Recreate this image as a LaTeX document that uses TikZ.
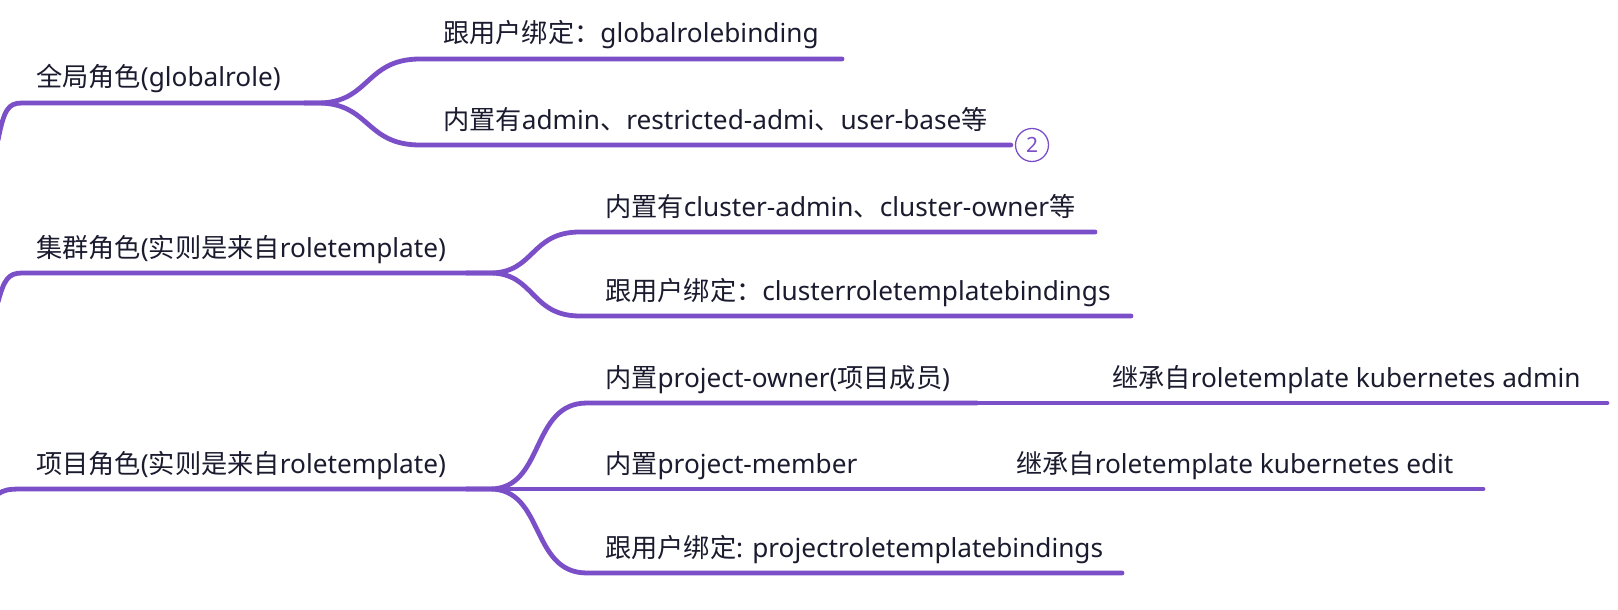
\documentclass[tikz,border=0pt]{standalone}
\usepackage{fontspec}
\setmainfont{Noto Sans}
\newfontfamily\cjk{Noto Sans CJK SC}
\definecolor{mmpurple}{HTML}{7B4FC8}
\definecolor{mmtext}{HTML}{1B1B2F}
\tikzset{
  lbl/.style={anchor=base west, inner sep=0pt, text=mmtext, font=\fontsize{26.2}{30}\selectfont},
  branch/.style={draw=mmpurple, line width=4.8pt, line cap=round},
  badge/.style={circle, draw=mmpurple, line width=1.3pt, minimum size=33pt, inner sep=0pt, text=mmpurple, font=\fontsize{21}{24}\selectfont},
}
\begin{document}
\begin{tikzpicture}[x=1pt,y=-1pt]
			\useasboundingbox (0,0) rectangle (1618,610);
			% roots
			\node[lbl] (glob) at (36,87) {{\cjk 全局角色}(globalrole)};
			\node[lbl] (clus) at (36,257) {{\cjk 集群角色}({\cjk 实则是来自}roletemplate)};
			\node[lbl] (proj) at (36,473) {{\cjk 项目角色}({\cjk 实则是来自}roletemplate)};
			% children
			\node[lbl] (globbind) at (443,43) {{\cjk 跟用户绑定：}globalrolebinding};
			\node[lbl] (globbuilt) at (443,129) {{\cjk 内置有}admin{\cjk 、}restricted-admi{\cjk 、}user-base{\cjk 等}};
			\node[badge] (globmore) at (1032,145) {2};
			\node[lbl] (clusbuilt) at (605,216) {{\cjk 内置有}cluster-admin{\cjk 、}cluster-owner{\cjk 等}};
			\node[lbl] (clusbind) at (605,300) {{\cjk 跟用户绑定：}clusterroletemplatebindings};
			\node[lbl] (projowner) at (605,387) {{\cjk 内置}project-owner({\cjk 项目成员})};
			\node[lbl] (projmember) at (605,473) {{\cjk 内置}project-member};
			\node[lbl] (projbind) at (605,557) {{\cjk 跟用户绑定}: projectroletemplatebindings};
			\node[lbl] (owneradmin) at (1112,387) {{\cjk 继承自}roletemplate kubernetes admin};
			\node[lbl] (memberedit) at (1016,473) {{\cjk 继承自}roletemplate kubernetes edit};
			% branch points
			\coordinate (glob-out) at (305,103);
			\coordinate (clus-out) at (467,273);
			\coordinate (proj-out) at (467,489);
			\coordinate (owner-out) at (977,403);
			\coordinate (member-out) at (880,489);
			% root lines
			\draw[branch] (-2,140) .. controls (4,110) and (8,103) .. (22,103) -- (glob-out);
			\draw[branch] (-2,302) .. controls (4,280) and (8,273) .. (22,273) -- (clus-out);
			\draw[branch] (-2,494) .. controls (4,490) and (8,489) .. (22,489) -- (proj-out);
			% global role
			\draw[branch] (glob-out) -- (318,103) .. controls (370,103) and (365,59) .. (420,59) -- (842,59);
			\draw[branch] (glob-out) -- (318,103) .. controls (370,103) and (365,145) .. (420,145) -- ([xshift=-4pt]globmore.west);
			% cluster role
			\draw[branch] (clus-out) -- (490,273) .. controls (535,273) and (530,232) .. (580,232) -- (1095,232);
			\draw[branch] (clus-out) -- (490,273) .. controls (535,273) and (530,316) .. (580,316) -- (1131,316);
			% project role
			\draw[branch] (proj-out) -- (490,489) .. controls (545,489) and (530,403) .. (587,403) -- (owner-out);
			\draw[branch] (proj-out) -- (member-out);
			\draw[branch] (proj-out) -- (490,489) .. controls (545,489) and (530,573) .. (587,573) -- (1122,573);
			% inherited
			\draw[branch] (owner-out) -- (1607,403);
			\draw[branch] (member-out) -- (1483,489);
		\end{tikzpicture}
\end{document}
